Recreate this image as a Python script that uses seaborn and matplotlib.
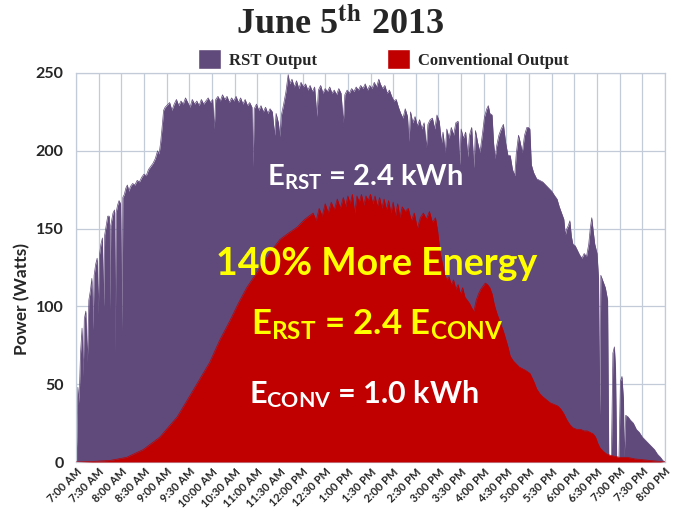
import pandas as pd
import seaborn as sns
import matplotlib.pyplot as plt
from matplotlib.patches import Patch

# Power output on June 5th 2013, minutes after 7:00 AM vs watts
rst_minutes = [0, 1, 2.5, 4, 6, 8, 9.5, 11, 13, 15, 17, 19, 21, 22.5, 24, 26, 28, 29.5, 31, 33,
               35, 36.5, 38, 40, 42, 44, 45, 46, 49, 51, 52, 53, 55, 57, 59, 61, 62, 64, 66, 68,
               70, 72, 75, 78, 81, 84, 87, 90, 93, 96, 99, 102, 105, 108, 110, 112, 114, 116, 118, 120,
               124, 127, 130, 133, 136, 139, 142, 145, 148, 151, 154, 157, 160, 163, 166, 169, 172, 175, 178, 181,
               183, 185, 188, 191, 194, 197, 200, 203, 206, 209, 212, 215, 218, 221, 224, 227, 230, 233, 234.5, 236,
               239, 242, 245, 248, 251, 254, 257, 260, 263, 265, 268, 270, 272, 275, 278, 281, 283, 286, 289, 292,
               295, 298, 301, 304, 307, 310, 313, 316, 319, 321, 324, 327, 330, 333, 336, 339, 342, 345, 348, 351,
               354, 356, 359, 362, 365, 368, 371, 374, 377, 380, 383, 386, 389, 392, 395, 398, 401, 403, 406, 409,
               412, 415, 418, 421, 424, 427, 430, 433, 436, 439, 441, 443, 446, 449, 452, 455, 458, 461, 464, 466,
               469, 472, 475, 478, 481, 484, 486, 489, 491, 494, 497, 500, 503, 506, 508, 510, 513, 516, 519, 521,
               524, 527, 529, 532, 535, 538, 541, 544, 546, 548, 551, 553, 555, 557, 560, 563, 566, 569, 572, 575,
               578, 581, 583, 586, 588, 591, 594, 597, 599, 601, 603, 606, 610, 614, 618, 622, 626, 630, 634, 637,
               640, 643, 646, 648, 650, 652, 654, 656, 658, 661, 664, 667, 670, 673, 676, 679, 681, 683, 685, 687,
               690, 692, 693.5, 695, 698, 701, 704, 705.5, 709, 711, 713, 714.5, 716, 719, 721, 723, 725, 726, 728, 731,
               734, 738, 742, 746, 750, 754, 758, 762, 766, 770, 774, 777, 780]
rst_watts = [0, 14, 48, 38, 70, 86, 55, 92, 97, 64, 104, 110, 118, 85, 120, 127, 131, 95, 133, 140,
             144, 100, 146, 152, 158, 158, 98, 152, 160, 162, 70, 160, 165, 168, 166, 85, 170, 172, 176, 178,
             174, 177, 179, 178, 181, 180, 183, 185, 184, 188, 190, 192, 195, 200, 198, 205, 215, 226, 228, 229,
             231, 226, 230, 233, 229, 232, 230, 234, 231, 228, 233, 230, 232, 229, 233, 230, 232, 234, 231, 233,
             214, 233, 235, 232, 236, 233, 235, 231, 234, 232, 235, 231, 234, 230, 233, 229, 231, 228, 190, 227,
             230, 226, 229, 225, 228, 224, 227, 225, 210, 224, 218, 209, 223, 230, 238, 249, 243, 246, 241, 245,
             240, 244, 241, 243, 239, 242, 238, 241, 222, 239, 242, 237, 240, 238, 241, 237, 239, 236, 240, 237,
             218, 236, 239, 237, 240, 238, 241, 239, 242, 240, 243, 239, 242, 240, 244, 241, 246, 243, 240, 242,
             237, 239, 235, 232, 233, 228, 224, 221, 227, 222, 206, 225, 218, 222, 216, 220, 214, 218, 202, 217,
             220, 221, 214, 223, 219, 205, 212, 199, 214, 208, 215, 210, 218, 219, 191, 214, 208, 212, 196, 210,
             215, 189, 213, 205, 199, 210, 222, 227, 229, 224, 223, 205, 195, 203, 210, 214, 217, 205, 197, 197,
             188, 184, 198, 210, 206, 199, 210, 215, 215, 214, 191, 186, 182, 181, 180, 178, 176, 174, 171, 169,
             164, 160, 156, 146, 150, 152, 155, 145, 140, 139, 136, 133, 131, 134, 132, 140, 150, 157, 148, 140,
             134, 118, 30, 120, 116, 112, 104, 4, 3, 70, 74, 60, 3, 2, 52, 55, 40, 3, 30, 29,
             27, 25, 21, 19, 16, 14, 12, 10, 8, 5, 3, 1, 0]

conv_minutes = [0, 20, 45, 67, 89, 111, 134, 155, 177, 190, 204, 215, 226, 237, 248, 259, 270, 281, 293, 303,
                314, 318, 322, 326, 330, 334, 338, 342, 346, 350, 354, 357, 360, 363, 366, 369, 372, 375, 378, 381,
                384, 387, 390, 393, 396, 399, 402, 405, 408, 411, 414, 417, 420, 423, 426, 429, 432, 436, 440, 444,
                448, 452, 456, 460, 464, 468, 472, 476, 479, 482, 485, 488, 491, 494, 497, 500, 503, 506, 509, 512,
                515, 518, 521, 524, 527, 530, 533, 536, 539, 542, 545, 548, 551, 554, 557, 560, 563, 566, 569, 572,
                575, 579, 583, 587, 591, 595, 601, 606, 610, 614, 618, 623, 628, 633, 638, 642, 646, 650, 654, 658,
                663, 668, 673, 677, 681, 685, 688, 691, 694, 698, 703, 710, 720, 730, 740, 750, 760, 770, 780]
conv_watts = [0, 0.3, 1, 3, 8, 16, 29, 46, 64, 78, 91, 102, 112, 120, 128, 136, 143, 147, 151, 156,
              160, 155, 163, 158, 166, 160, 167, 162, 169, 163, 170, 164, 171, 166, 172, 160, 171, 167, 172, 165,
              171, 168, 172, 166, 171, 164, 170, 163, 169, 162, 168, 160, 167, 158, 166, 157, 164, 161, 163, 155,
              160, 150, 157, 160, 156, 161, 154, 157, 148, 135, 128, 121, 117, 119, 114, 117, 111, 114, 108, 112,
              106, 104, 102, 99, 97, 104, 108, 111, 113, 115, 114, 112, 108, 101, 96, 92, 88, 84, 79, 74,
              68, 65, 63, 61, 60, 59, 57, 52, 47, 44, 42, 40, 38, 37, 36, 34, 31, 27, 24, 22,
              21, 21, 20, 20, 19, 18, 16, 12, 9, 7, 5, 4, 3, 3, 2, 1.5, 1, 0.5, 0]

tick_labels = ['7:00 AM', '7:30 AM', '8:00 AM', '8:30 AM', '9:00 AM', '9:30 AM', '10:00 AM', '10:30 AM',
               '11:00 AM', '11:30 AM', '12:00 PM', '12:30 PM', '1:00 PM', '1:30 PM', '2:00 PM', '2:30 PM',
               '3:00 PM', '3:30 PM', '4:00 PM', '4:30 PM', '5:00 PM', '5:30 PM', '6:00 PM', '6:30 PM',
               '7:00 PM', '7:30 PM', '8:00 PM']

rst = pd.DataFrame({'minute': rst_minutes, 'watts': rst_watts})
conv = pd.DataFrame({'minute': conv_minutes, 'watts': conv_watts})

purple = '#604A7B'
red = '#C00000'
grid_col = '#c3cad8'

sns.set_theme(style='white')
plt.rcParams['font.family'] = ['Lato', 'DejaVu Sans']
plt.rcParams['mathtext.fontset'] = 'custom'
plt.rcParams['mathtext.rm'] = 'Lato:bold'
plt.rcParams['mathtext.bf'] = 'Lato:bold'
plt.rcParams['mathtext.it'] = 'Lato:bold'

fig = plt.figure(figsize=(6.83, 5.12), dpi=100)
ax = fig.add_axes([76 / 683, 1 - 462 / 512, 589 / 683, 389 / 512])

ax.fill_between(rst['minute'], rst['watts'], color=purple, lw=0, zorder=2)
sns.lineplot(data=rst, x='minute', y='watts', color=purple, lw=0.5, ax=ax, zorder=2)
ax.fill_between(conv['minute'], conv['watts'], color=red, lw=0, zorder=3)
sns.lineplot(data=conv, x='minute', y='watts', color=red, lw=0.5, ax=ax, zorder=3)

ax.set_xlim(0, 780)
ax.set_ylim(0, 250)
ax.set_xticks(range(0, 781, 30))
ax.set_xticklabels(tick_labels, rotation=45, ha='right', rotation_mode='anchor',
                   fontsize=8, fontweight='bold', color='#262626')
ax.set_yticks(range(0, 251, 50))
ax.set_yticklabels([str(v) for v in range(0, 251, 50)], fontsize=11.5, fontweight='bold', color='#262626')
ax.tick_params(axis='both', length=0)
ax.tick_params(axis='x', pad=3)
ax.tick_params(axis='y', pad=9)
ax.grid(True, color=grid_col, lw=0.9)
ax.set_axisbelow(True)
for s in ax.spines.values():
    s.set_color(grid_col)
    s.set_linewidth(0.9)
ax.set_xlabel('')
ax.set_ylabel('Power (Watts)', fontsize=12.5, fontweight='bold', color='#262626')
ax.yaxis.set_label_coords(-0.078, 0.42)

# annotations
ax.text(383, 178, r'E$_{\mathrm{RST}}$ = 2.4 kWh', color='white', fontsize=21,
        fontweight='bold', ha='center', va='baseline', zorder=5)
ax.text(398, 120, '140% More Energy', color='#FFFF00', fontsize=27,
        fontweight='bold', ha='center', va='baseline', zorder=5)
ax.text(399, 82, r'E$_{\mathrm{RST}}$ = 2.4 E$_{\mathrm{CONV}}$', color='#FFFF00', fontsize=25,
        fontweight='bold', ha='center', va='baseline', zorder=5)
ax.text(381, 38, r'E$_{\mathrm{CONV}}$ = 1.0 kWh', color='white', fontsize=22,
        fontweight='bold', ha='center', va='baseline', zorder=5)

# title and legend
fig.text(340 / 683, 1 - 25 / 512, r'June 5$^{\mathbf{th}}$ 2013', fontsize=26, fontweight='bold',
         family='Liberation Serif', math_fontfamily='stix', ha='center', va='center')
handles = [Patch(facecolor=purple, label='RST Output'),
           Patch(facecolor=red, label='Conventional Output')]
fig.legend(handles=handles, loc='center', bbox_to_anchor=(383 / 683, 1 - 59 / 512), ncol=2,
           frameon=False, prop={'family': 'Liberation Serif', 'weight': 'bold', 'size': 12},
           handlelength=1.4, handleheight=1.45, handletextpad=0.45, columnspacing=4.2)

fig.savefig('out.png', dpi=100)
